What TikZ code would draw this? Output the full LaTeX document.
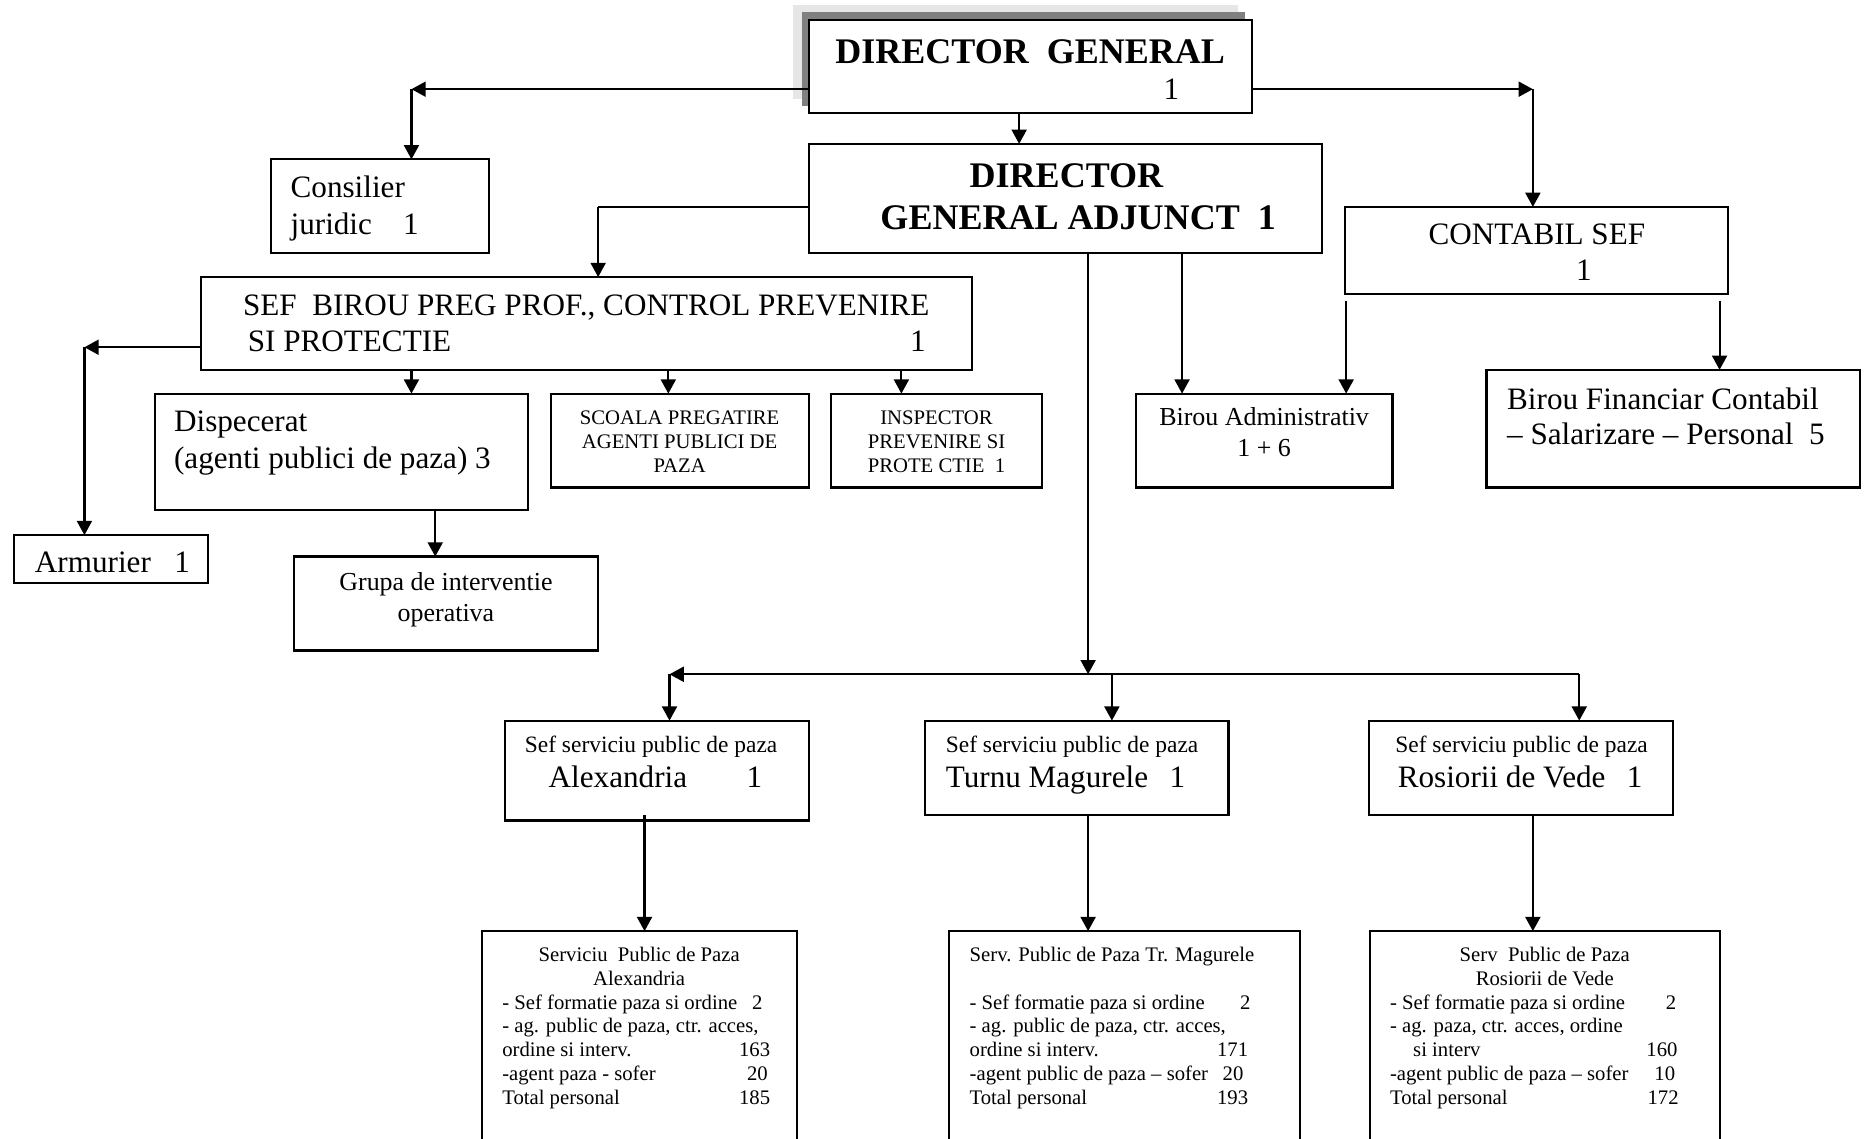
\documentclass[tikz,border=0pt]{standalone}
\usepackage{fontspec}
\setmainfont{Liberation Serif}
\usetikzlibrary{arrows.meta,fit}
\begin{document}
\begin{tikzpicture}[x=0.5pt,y=-0.5pt,
 bx/.style={draw, line width=0.9pt, inner sep=0pt, outer sep=0pt, fill=white},
 arr/.style={line width=0.9pt, -{Triangle[length=6pt,width=6.3pt]}},
 ln/.style={line width=0.9pt},
 tx/.style={inner sep=0pt, anchor=base west},
 tc/.style={inner sep=0pt, anchor=base},
 te/.style={inner sep=0pt, anchor=base east},
 fA/.style={font=\fontsize{15.15}{17}\selectfont\bfseries},
 fB/.style={font=\fontsize{13.1}{15}\selectfont},
 fC/.style={font=\fontsize{10.9}{13}\selectfont},
 fD/.style={font=\fontsize{9.85}{11}\selectfont},
 fE/.style={font=\fontsize{8.7}{10}\selectfont}]
\useasboundingbox (0,0) rectangle (1568.3,957);
% shadow of director general box
\definecolor{shlight}{HTML}{E6E6E6}
\definecolor{shdark}{HTML}{808080}
\fill[shlight] (667,4) rectangle (1041,83);
\fill[shdark] (674,10) rectangle (1047,89);
% boxes
\node[bx, fit={(680,17)(1053,95)}] (dg) {};
\node[bx, fit={(680,121)(1112,213)}] (dga) {};
\node[bx, fit={(228,134)(411,213)}] (cons) {};
\node[bx, fit={(1131,174)(1453,247)}] (cont) {};
\node[bx, fit={(169,233)(817,311)}] (sef) {};
\node[bx, fit={(130,331)(444,429)}] (disp) {};
\node[bx, fit={(463,331)(680,410)}] (scoala) {};
\node[bx, fit={(699,331)(876,410)}] (insp) {};
\node[bx, fit={(12,450)(175,490)}] (arm) {};
\node[bx, fit={(247,468)(503,547)}] (grupa) {};
\node[bx, fit={(955,331)(1171,410)}] (badm) {};
\node[bx, fit={(1250,311)(1564,410)}] (bfin) {};
\node[bx, fit={(425,606)(680,690)}] (sa) {};
\node[bx, fit={(778,606)(1033,685)}] (st) {};
\node[bx, fit={(1151,606)(1407,685)}] (sr) {};
\node[bx, fit={(405,783)(670,980)}] (ba) {};
\node[bx, fit={(798,783)(1093,980)}] (bt) {};
\node[bx, fit={(1152,783)(1446,980)}] (br) {};
% corner coordinates
\coordinate (c1) at (346,75);
\coordinate (c2) at (1289,75);
\coordinate (c3) at (71,292);
\coordinate (c4) at (915,567);
\coordinate (c5) at (1328,567);
\coordinate (c6) at (563,567);
\coordinate (c7) at (935,567);
\coordinate (c8) at (1132,253);
\coordinate (c9) at (1446,253);
\coordinate (c10) at (542,685);
\coordinate (c11) at (503,174);
% connectors
\draw[arr] (dg.west |- c1) -- (c1);
\draw[arr] (c1) -- (cons.north -| c1);
\draw[arr] (dg.east |- c2) -- (c2);
\draw[arr] (c2) -- (cont.north -| c2);
\draw[arr] (dg.south -| 857,0) -- (dga.north -| 857,0);
\draw[ln] (dga.west |- c11) -- (c11);
\draw[arr] (c11) -- (sef.north -| c11);
\draw[arr] (sef.west |- c3) -- (c3);
\draw[arr] (c3) -- (arm.north -| c3);
\draw[arr] (sef.south -| 346,0) -- (disp.north -| 346,0);
\draw[arr] (sef.south -| 562,0) -- (scoala.north -| 562,0);
\draw[arr] (sef.south -| 758,0) -- (insp.north -| 758,0);
\draw[arr] (disp.south -| 366,0) -- (grupa.north -| 366,0);
\draw[arr] (dga.south -| c4) -- (c4);
\draw[arr] (c5) -- (c6);
\draw[arr] (c6) -- (sa.north -| c6);
\draw[arr] (c7) -- (st.north -| c7);
\draw[arr] (c5) -- (sr.north -| c5);
\draw[arr] (dga.south -| 994,0) -- (badm.north -| 994,0);
\draw[arr] (c8) -- (badm.north -| c8);
\draw[arr] (c9) -- (bfin.north -| c9);
\draw[arr] (c10) -- (ba.north -| c10);
\draw[arr] (st.south -| 915,0) -- (bt.north -| 915,0);
\draw[arr] (sr.south -| 1289,0) -- (br.north -| 1289,0);
% texts
\node[tx,fA] (tdg1) at (702,53) {DIRECTOR\ \ GENERAL};
\node[tx,fB] (tdg2) at (978,83.5) {1};
\node[tx,fA] (tdga1) at (815,158) {DIRECTOR};
\node[tx,fA] (tdga2) at (740,193) {GENERAL ADJUNCT\ \ 1};
\node[tx,fB] (tcons1) at (244,166.5) {Consilier};
\node[tx,fB] (tcons2) at (244,197.5) {juridic\ \ \ \ 1};
\node[tx,fB] (tcont1) at (1201,206) {CONTABIL SEF};
\node[tx,fB] (tcont2) at (1325,236) {1};
\node[tx,fB] (tsef1) at (204,265) {SEF\ \ BIROU PREG PROF., CONTROL PREVENIRE};
\node[tx,fB] (tsef2) at (208,296) {SI PROTECTIE};
\node[tx,fB] (tsef3) at (765,296) {1};
\node[tx,fB] (tdisp1) at (146,363) {Dispecerat};
\node[tx,fB] (tdisp2) at (146,394) {(agenti publici de paza) 3};
\node[tc,fE] (tsc1) at (571.5,357) {SCOALA PREGATIRE};
\node[tc,fE] (tsc2) at (571.5,377) {AGENTI PUBLICI DE};
\node[tc,fE] (tsc3) at (571.5,397) {PAZA};
\node[tc,fE] (tin1) at (787.5,357) {INSPECTOR};
\node[tc,fE] (tin2) at (787.5,377) {PREVENIRE SI};
\node[tc,fE] (tin3) at (787.5,397) {PROTE CTIE\ \ 1};
\node[tx,fB] (tarm) at (29,481) {Armurier\ \ \ 1};
\node[tc,fC] (tgr1) at (375,496.5) {Grupa de interventie};
\node[tc,fC] (tgr2) at (375,522.5) {operativa};
\node[tc,fC] (tba1) at (1063,358) {Birou Administrativ};
\node[tc,fC] (tba2) at (1063,384) {1 + 6};
\node[tx,fB] (tbf1) at (1267,344) {Birou Financiar Contabil};
\node[tx,fB] (tbf2) at (1267,374) {-- Salarizare -- Personal\ \ 5};
\node[tx,fD] (tsa1) at (441,633) {Sef serviciu public de paza};
\node[tx,fB] (tsa2) at (461,662) {Alexandria\hspace{25pt}1};
\node[tx,fD] (tst1) at (795,633) {Sef serviciu public de paza};
\node[tx,fB] (tst2) at (795,662) {Turnu Magurele\hspace{9pt}1};
\node[tx,fD] (tsr1) at (1173,633) {Sef serviciu public de paza};
\node[tx,fB] (tsr2) at (1175,662) {Rosiorii de Vede\hspace{9pt}1};
% bottom box Alexandria
\node[tc,fE] (a1) at (537.5,808.5) {Serviciu\ \ Public de Paza};
\node[tc,fE] (a2) at (537.5,828.5) {Alexandria};
\node[tx,fE] (a3) at (422,848.5) {- Sef formatie paza si ordine};
\node[te,fE] (a3n) at (641.5,848.5) {2};
\node[tx,fE] (a4) at (422,868.5) {- ag. public de paza, ctr. acces,};
\node[tx,fE] (a5) at (422,888.5) {ordine si interv.};
\node[te,fE] (a5n) at (648,888.5) {163};
\node[tx,fE] (a6) at (422,908.5) {-agent paza - sofer};
\node[te,fE] (a6n) at (646,908.5) {20};
\node[tx,fE] (a7) at (422,928.5) {Total personal};
\node[te,fE] (a7n) at (648,928.5) {185};
% bottom box Turnu
\node[tx,fE] (b1) at (815,808.5) {Serv. Public de Paza Tr. Magurele};
\node[tx,fE] (b3) at (815,848.5) {- Sef formatie paza si ordine};
\node[te,fE] (b3n) at (1052,848.5) {2};
\node[tx,fE] (b4) at (815,868.5) {- ag. public de paza, ctr. acces,};
\node[tx,fE] (b5) at (815,888.5) {ordine si interv.};
\node[te,fE] (b5n) at (1050,888.5) {171};
\node[tx,fE] (b6) at (815,908.5) {-agent public de paza -- sofer};
\node[te,fE] (b6n) at (1046,908.5) {20};
\node[tx,fE] (b7) at (815,928.5) {Total personal};
\node[te,fE] (b7n) at (1050,928.5) {193};
% bottom box Rosiorii
\node[tc,fE] (r1) at (1299,808.5) {Serv\ \ Public de Paza};
\node[tc,fE] (r2) at (1299,828.5) {Rosiorii de Vede};
\node[tx,fE] (r3) at (1168.5,848.5) {- Sef formatie paza si ordine};
\node[te,fE] (r3n) at (1410,848.5) {2};
\node[tx,fE] (r4) at (1168.5,868.5) {- ag. paza, ctr. acces, ordine};
\node[tx,fE] (r5) at (1188,888.5) {si interv};
\node[te,fE] (r5n) at (1411,888.5) {160};
\node[tx,fE] (r6) at (1168.5,908.5) {-agent public de paza -- sofer};
\node[te,fE] (r6n) at (1409,908.5) {10};
\node[tx,fE] (r7) at (1168.5,928.5) {Total personal};
\node[te,fE] (r7n) at (1412,928.5) {172};
\end{tikzpicture}
\end{document}
